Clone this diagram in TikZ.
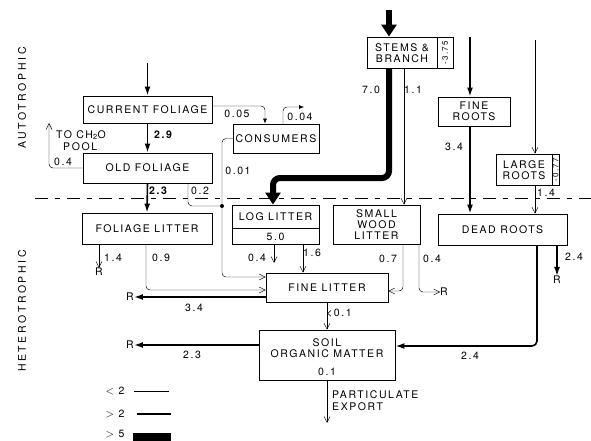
\documentclass[tikz,border=0pt]{standalone}
\usepackage{fontspec}
\setmainfont[LetterSpace=15]{TeX Gyre Heros}
\usetikzlibrary{arrows.meta}
\begin{document}
\begin{tikzpicture}[x=1pt,y=-1pt,
  font=\fontsize{10.5}{11}\selectfont,
  box/.style={draw, line width=0.9pt, inner sep=0pt, align=center},
  thinl/.style={line width=0.45pt},
  medl/.style={line width=1.6pt},
  thickl/.style={line width=6pt},
  tarr/.style={thinl, -{Straight Barb[length=6pt,width=6pt]}},
  marr/.style={medl, -{Latex[length=9pt,width=6pt]}},
  karr/.style={thickl, -{Triangle[length=12pt,width=15pt]}},
  lbl/.style={inner sep=0pt},
  side/.style={inner sep=0pt, rotate=90, font=\fontsize{8}{9}\selectfont},
  rc/.style={rounded corners=4pt}
]
\useasboundingbox (0,0) rectangle (591,441);

% side labels
\node[lbl, rotate=90, font=\fontsize{10.5}{11}\addfontfeature{LetterSpace=25}] (auto) at (22,98) {AUTOTROPHIC};
\node[lbl, rotate=90, font=\fontsize{10.5}{11}\addfontfeature{LetterSpace=25}] (hetero) at (22,311) {HETEROTROPHIC};

% dashed divider
\coordinate (dl) at (35,198);
\coordinate (dr0) at (591,198);
\draw[line width=0.6pt, dash pattern=on 13pt off 7pt on 5pt off 7pt] (dl) -- (dr0);

% boxes
\node[box, minimum width=129pt, minimum height=27pt] (cf) at (147.5,109.5) {CURRENT FOLIAGE};
\node[box, minimum width=129pt, minimum height=30pt] (of) at (147.5,168) {OLD FOLIAGE};
\node[box, minimum width=86pt, minimum height=29pt] (cons) at (276,138.5) {CONSUMERS};
\node[box, minimum width=86pt, minimum height=31pt] (stems) at (410,52.5) {};
\node[lbl, align=center] (stemst) at (402,53.5) {STEMS \&\\BRANCH};
\draw[line width=0.9pt] (stems.north -| 437,0) -- (stems.south -| 437,0);
\node[side] (stemsv) at (445,52.5) {-3.75};
\node[box, minimum width=72pt, minimum height=29pt] (fr) at (474,111.5) {FINE\\ROOTS};
\node[box, minimum width=63pt, minimum height=31pt] (lr) at (527.5,169.5) {};
\node[lbl, align=center] (lrt) at (524,170.5) {LARGE\\ROOTS};
\draw[line width=0.9pt] (lr.north -| 552,0) -- (lr.south -| 552,0);
\node[side] (lrv) at (555.5,169.5) {-0.77};
\node[box, minimum width=130pt, minimum height=31pt] (fl) at (147,228.5) {FOLIAGE LITTER};
\node[box, minimum width=87pt, minimum height=39pt] (ll) at (275.5,224.5) {};
\node[lbl] (llt) at (275.5,217) {LOG LITTER};
\node[lbl] (llv) at (275.5,237) {5.0};
\draw[line width=0.9pt] (ll.west |- 0,228) -- (ll.east |- 0,228);
\node[box, minimum width=87pt, minimum height=39pt] (swl) at (376.5,224.5) {SMALL\\WOOD\\LITTER};
\node[box, minimum width=129pt, minimum height=31pt] (dr) at (502.5,229.5) {DEAD ROOTS};
\node[box, minimum width=122pt, minimum height=29pt] (flit) at (327,287.5) {FINE LITTER};
\node[box, minimum width=136pt, minimum height=50pt] (som) at (327,355) {};
\node[lbl, align=center] (somt) at (327,348) {SOIL\\ORGANIC MATTER};
\node[lbl] (somv) at (327,372) {0.1};

% R nodes
\node[lbl] (r1) at (99,272) {R};
\node[lbl] (r2) at (130,297) {R};
\node[lbl] (r5) at (130,345) {R};
\node[lbl] (r3) at (444,292) {R};
\node[lbl] (r4) at (557,280) {R};

% free ends
\coordinate (cfin) at (147.5,63);
\coordinate (stin) at (389,10);
\coordinate (frin) at (470,37);
\coordinate (lrin) at (535,40);
\coordinate (chpool) at (49,123);
\coordinate (c04) at (304,107);
\coordinate (ll04) at (274,263);
\coordinate (export) at (327,423);
\coordinate (jdot) at (222,206);

% foliage chain
\draw[marr] (cfin) -- (cf.north);
\draw[marr] (cf.south) -- (of.north);
\node[lbl, font=\fontsize{10.5}{11}\bfseries] at (163,135) {2.9};
\draw[marr] (of.south) -- (fl.north);
\node[lbl, font=\fontsize{10.5}{11}\bfseries] at (158,191) {2.3};

% old foliage -> CH2O pool
\draw[tarr, rc] (of.west) -- (49,168) -- (chpool);
\node[lbl] at (63,162) {0.4};
\node[lbl, anchor=west] at (56,135) {TO CH\textsubscript{2}O};
\node[lbl, anchor=west] at (63,146.5) {POOL};

% current foliage -> consumers
\draw[thinl, rc, -{Latex[length=5pt,width=4pt]}] (cf.east |- 0,106) -- (265,106) -- (cons.north -| 265,0);
\node[lbl] at (237,114) {0.05};
% consumers -> out
\draw[thinl, rc, -{Latex[length=5pt,width=4pt]}] (cons.north -| 283,0) -- (283,107) -- (c04);
\node[lbl] at (300,117) {0.04};

% consumers -> fine litter
\draw[tarr, rc] (cons.west) -- (222,138.5) -- (222,277) -- (flit.west |- 0,277);
\node[lbl] at (238,171) {0.01};
% old foliage 0.2 -> junction
\draw[thinl, rc] (of.south -| 188,0) -- (188,206) -- (jdot);
\fill (jdot) circle (2pt);
\node[lbl] at (200,191) {0.2};

% stems
\draw[karr] (stin) -- (stems.north -| 389,0);
\draw[karr, rounded corners=7pt] (stems.south -| 389,0) -- (389,178) -- (273,178) -- (ll.north -| 273,0);
\node[lbl] at (371,90) {7.0};
\draw[tarr] (stems.south -| 404,0) -- (swl.north -| 404,0);
\node[lbl] at (413,90) {1.1};

% roots
\draw[marr] (frin) -- (fr.north -| 470,0);
\draw[marr] (fr.south -| 470,0) -- (dr.north -| 470,0);
\node[lbl] at (454,147) {3.4};
\draw[tarr] (lrin) -- (lr.north -| 535,0);
\draw[tarr] (lr.south -| 535,0) -- (dr.north -| 535,0);
\node[lbl] at (546,193) {1.4};

% foliage litter outputs
\draw[tarr] (fl.south -| r1) -- (r1.north);
\node[lbl] at (113,258) {1.4};
\draw[tarr, rc] (fl.south -| 146,0) -- (146,290) -- (flit.west |- 0,290);
\node[lbl] at (161,258) {0.9};

% fine litter respiration
\draw[medl, -{Latex[length=9pt,width=6pt]}] (flit.west |- r2) -- (r2.east);
\node[lbl] at (194,308) {3.4};

% log litter outputs
\draw[tarr] (ll.south -| ll04) -- (ll04);
\node[lbl] at (257,258) {0.4};
\draw[tarr] (ll.south -| 303,0) -- (flit.north -| 303,0);
\node[lbl] at (312,253) {1.6};

% small wood litter outputs
\draw[tarr, rc] (swl.south -| 403,0) -- (403,291) -- (flit.east |- 0,291);
\node[lbl] at (388,259) {0.7};
\draw[tarr, rc] (swl.south -| 419,0) -- (419,292) -- (r3.west);
\node[lbl] at (432,259) {0.4};

% dead roots outputs
\draw[marr] (dr.south -| r4) -- (r4.north);
\node[lbl] at (574,257) {2.4};
\draw[marr, rounded corners=5pt] (dr.south -| 537,0) -- (537,346) -- (som.east |- 0,346);
\node[lbl] at (470,356) {2.4};

% fine litter -> SOM
\draw[tarr] (flit.south) -- (som.north);
\node[lbl] at (339,313) {<0.1};

% SOM outputs
\draw[medl, -{Latex[length=9pt,width=6pt]}] (som.west |- r5) -- (r5.east);
\node[lbl] at (192,355) {2.3};
\draw[tarr] (som.south) -- (export);
\node[lbl, anchor=west] at (332,395) {PARTICULATE};
\node[lbl, anchor=west] at (332,407) {EXPORT};

% legend
\node[lbl] (lg1) at (115,391) {$<$ 2};
\node[lbl] (lg2) at (115,414) {$>$ 2};
\node[lbl] (lg3) at (115,434) {$>$ 5};
\draw[thinl] (134,391) -- (169,391);
\draw[medl] (137,414) -- (171,414);
\fill (133,433) rectangle (171,446);
\end{tikzpicture}
\end{document}
